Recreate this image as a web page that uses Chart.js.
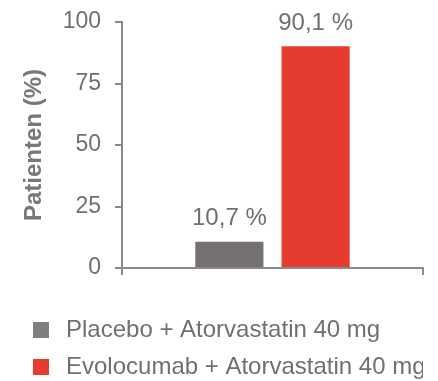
<!DOCTYPE html>
<html>
<head>
<meta charset="utf-8">
<script src="https://cdn.jsdelivr.net/npm/chart.js@4.4.1/dist/chart.umd.min.js"></script>
<style>
  html, body { margin: 0; padding: 0; background: #ffffff; }
  #wrap { width: 438px; height: 381px; position: relative; }
</style>
</head>
<body>
<div id="wrap"><canvas id="chart"></canvas></div>
<script>
// Responder rates (%) per treatment arm
const categories = [''];
const seriesNames = ['Placebo + Atorvastatin 40 mg', 'Evolocumab + Atorvastatin 40 mg'];
const placeboValues = [10.7];
const evolocumabValues = [90.1];
const yTicks = [0, 25, 50, 75, 100];
const colors = ['#747073', '#e63c30'];
const legendColors = ['#7f7f7f', '#e63c30'];

const textGray = '#707070';
const axisGray = '#8a8a8a';
const FONT = "'Liberation Sans', Arial, sans-serif";

// Legend marker: a 16px square, with some blank room after it before the text
function legendMarker(color) {
  const c = document.createElement('canvas');
  c.width = 21;
  c.height = 16;
  const g = c.getContext('2d');
  g.fillStyle = color;
  g.fillRect(0, 0, 16, 16);
  return c;
}

// Writes each bar's value above it, with a German decimal comma
const valueLabels = {
  id: 'valueLabels',
  afterDatasetsDraw(chart) {
    const ctx = chart.ctx;
    ctx.save();
    ctx.font = '24px ' + FONT;
    ctx.fillStyle = textGray;
    ctx.textAlign = 'center';
    ctx.textBaseline = 'alphabetic';
    chart.data.datasets.forEach((ds, i) => {
      chart.getDatasetMeta(i).data.forEach((bar, j) => {
        const v = ds.data[j];
        const txt = v.toFixed(1).replace('.', ',') + ' %';
        ctx.fillText(txt, bar.x, bar.y - 16.5);
      });
    });
    ctx.restore();
  }
};

new Chart(document.getElementById('chart'), {
  type: 'bar',
  data: {
    labels: categories,
    datasets: [
      { label: seriesNames[0], data: placeboValues, backgroundColor: colors[0] },
      { label: seriesNames[1], data: evolocumabValues, backgroundColor: colors[1] }
    ]
  },
  options: {
    responsive: true,
    maintainAspectRatio: false,
    animation: false,
    categoryPercentage: 0.573,
    barPercentage: 0.79,
    layout: { padding: { top: 22, right: 15, left: 20, bottom: -8 } },
    plugins: {
      tooltip: { enabled: false },
      legend: {
        position: 'bottom',
        align: 'start',
        labels: {
          color: textGray,
          font: { family: FONT, size: 24 },
          usePointStyle: true,
          pointStyleWidth: 21,
          boxHeight: 16,
          padding: 13,
          generateLabels(chart) {
            return chart.data.datasets.map((ds, i) => ({
              text: ds.label,
              fillStyle: legendColors[i],
              strokeStyle: legendColors[i],
              lineWidth: 0,
              pointStyle: legendMarker(legendColors[i]),
              fontColor: textGray,
              datasetIndex: i
            }));
          }
        }
      }
    },
    scales: {
      x: {
        offset: true,
        afterFit(scale) { scale.height = 37; },
        grid: { display: true, offset: true, drawOnChartArea: false, drawTicks: true, tickLength: 7, color: axisGray, lineWidth: 2 },
        border: { display: true, color: axisGray, width: 2 },
        ticks: { display: false }
      },
      y: {
        min: 0,
        max: 100,
        afterBuildTicks(scale) { scale.ticks = yTicks.map(v => ({ value: v })); },
        afterFit(scale) {
          scale.width = 102;
          scale.paddingTop = 0;
          scale.paddingBottom = 0;
        },
        grid: { display: true, drawOnChartArea: false, drawTicks: true, tickLength: 7, color: axisGray, lineWidth: 2 },
        border: { display: true, color: axisGray, width: 2 },
        ticks: { color: textGray, font: { family: FONT, size: 23 }, padding: 14 },
        title: {
          display: true,
          text: 'Patienten (%)',
          color: '#787878',
          font: { family: FONT, size: 24, weight: 'bold' },
          padding: { top: 0, bottom: 0 }
        }
      }
    }
  },
  plugins: [valueLabels]
});
</script>
</body>
</html>
